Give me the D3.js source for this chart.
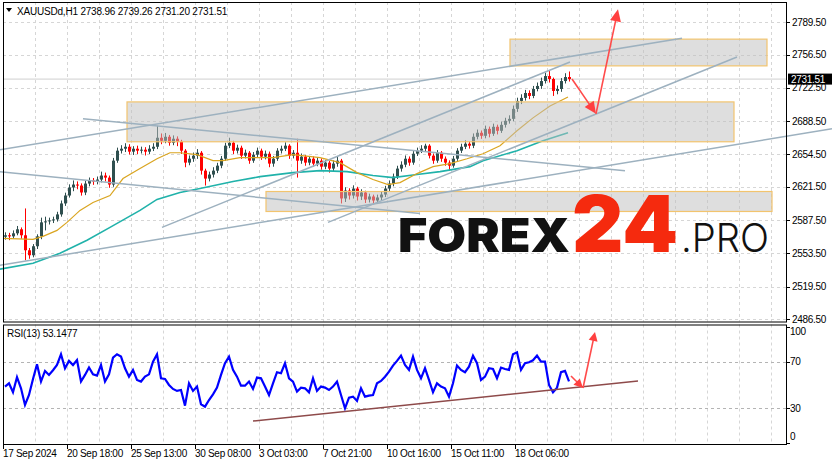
<!DOCTYPE html>
<html><head><meta charset="utf-8">
<script src="https://cdn.jsdelivr.net/npm/d3@7"></script>
<style>html,body{margin:0;padding:0;background:#fff;}svg{display:block;font-family:"Liberation Sans",Arial,sans-serif;}</style>
</head><body><svg id="c" width="832" height="465"></svg>
<script>
// ---------- data ----------
const header = "XAUUSDd,H1  2738.96 2739.26 2731.20 2731.51";
const rsiLabel = "RSI(13) 53.1477";
const lastPrice = 2731.51;
const priceTicks = [2789.5,2756.5,2722.5,2688.5,2654.5,2621.5,2587.5,2553.5,2519.5,2486.5];
const rsiTicks = [100,70,30,0];
const rsiLevels = [70,30];
const timeTickIdx = [0,16,32,48,64,80,96,112,128];
const timeLabels = ["17 Sep 2024","20 Sep 18:00","25 Sep 13:00","30 Sep 08:00","3 Oct 03:00","7 Oct 21:00","10 Oct 16:00","15 Oct 11:00","18 Oct 06:00"];

const open = [2570.5,2572.0,2570.9,2574.0,2578.1,2572.0,2556.7,2551.6,2560.8,2570.9,
2585.2,2586.2,2587.2,2588.2,2593.3,2604.5,2612.6,2620.8,2623.8,2622.8,
2615.7,2624.8,2627.9,2626.9,2628.9,2633.0,2630.9,2623.8,2648.2,2658.4,
2660.4,2662.4,2657.4,2660.4,2658.4,2659.4,2657.4,2660.4,2662.4,2671.6,
2668.5,2672.6,2666.5,2670.6,2667.5,2658.4,2646.2,2650.2,2653.3,2656.3,
2638.0,2629.9,2634.0,2638.0,2643.1,2650.2,2663.5,2666.5,2658.4,2661.4,
2653.3,2656.3,2648.2,2654.3,2658.4,2652.3,2655.3,2645.2,2650.2,2658.4,
2660.4,2663.5,2653.3,2656.3,2648.2,2652.3,2646.2,2650.2,2645.2,2648.2,
2642.1,2646.2,2640.1,2645.2,2648.2,2609.6,2617.7,2612.6,2619.7,2611.6,
2615.7,2608.5,2611.6,2607.5,2610.6,2613.6,2619.7,2624.8,2631.9,2640.1,
2644.1,2650.2,2646.2,2655.3,2658.4,2660.4,2663.5,2653.3,2648.2,2656.3,
2650.2,2646.2,2643.1,2650.2,2658.4,2662.4,2665.5,2663.5,2672.6,2676.7,
2673.6,2680.7,2675.7,2682.8,2678.7,2684.8,2688.9,2690.9,2701.1,2709.2,
2712.3,2717.3,2714.3,2721.4,2724.5,2729.5,2734.6,2731.6,2719.4,2721.4,
2729.5,2733.6];
const high = [2575.0,2574.5,2577.0,2581.5,2580.0,2599.4,2559.0,2563.0,2573.0,2590.0,
2591.0,2590.0,2591.0,2596.0,2607.5,2615.5,2624.0,2628.0,2627.0,2625.0,
2627.5,2631.0,2630.5,2632.0,2637.0,2636.0,2633.0,2651.0,2661.5,2664.0,
2666.0,2665.0,2663.0,2663.5,2662.5,2662.0,2664.0,2666.0,2683.8,2676.0,
2676.5,2674.5,2674.0,2673.0,2669.5,2660.0,2653.5,2656.5,2660.0,2658.0,
2640.0,2637.0,2641.5,2646.0,2653.0,2666.5,2671.6,2668.5,2664.5,2663.5,
2659.5,2658.0,2657.0,2661.5,2660.5,2658.5,2657.5,2653.0,2661.0,2663.5,
2667.0,2665.0,2659.0,2670.6,2655.5,2654.0,2653.0,2652.5,2651.5,2650.5,
2649.0,2648.0,2648.5,2652.5,2650.0,2621.0,2620.0,2623.0,2621.5,2619.0,
2617.5,2614.5,2613.5,2613.5,2616.5,2622.5,2628.0,2635.0,2643.0,2647.5,
2653.5,2652.5,2658.0,2661.5,2664.0,2665.5,2665.0,2655.5,2659.0,2658.0,
2652.5,2648.5,2653.0,2661.0,2665.5,2669.0,2668.0,2676.0,2680.0,2679.0,
2684.0,2683.0,2686.0,2685.0,2688.0,2692.0,2694.5,2704.5,2712.5,2716.0,
2720.5,2720.0,2724.5,2728.0,2733.0,2738.0,2739.7,2733.0,2725.0,2732.5,
2737.5,2739.26];
const low = [2567.5,2567.0,2568.5,2572.0,2568.5,2546.5,2548.0,2549.5,2558.0,2568.0,
2577.0,2583.0,2584.5,2586.0,2591.0,2602.0,2610.5,2617.0,2619.0,2612.5,
2613.0,2622.0,2623.5,2624.0,2626.0,2627.0,2620.5,2621.5,2646.0,2655.5,
2657.0,2654.5,2654.0,2655.0,2655.5,2653.5,2655.0,2658.0,2660.0,2665.0,
2666.0,2663.5,2664.0,2663.0,2655.0,2641.5,2643.5,2647.0,2650.0,2634.0,
2622.8,2627.0,2631.0,2635.5,2640.5,2648.0,2661.0,2655.0,2655.5,2650.0,
2650.5,2645.0,2646.0,2652.0,2649.0,2649.5,2641.5,2642.0,2648.0,2655.5,
2658.0,2650.0,2650.5,2630.9,2645.0,2643.0,2643.5,2642.0,2642.5,2639.0,
2639.5,2636.0,2637.5,2642.0,2604.5,2606.0,2608.5,2609.5,2607.5,2608.0,
2605.0,2605.5,2604.5,2605.0,2607.5,2611.0,2617.0,2622.0,2629.5,2637.0,
2641.5,2643.0,2644.0,2653.0,2656.0,2658.0,2650.5,2645.0,2646.0,2647.0,
2643.0,2638.0,2641.0,2648.0,2656.0,2660.0,2660.5,2661.0,2670.0,2670.5,
2671.0,2672.0,2673.5,2675.0,2676.5,2682.0,2686.0,2688.5,2698.0,2706.0,
2709.5,2711.0,2712.0,2719.0,2721.5,2727.0,2728.0,2714.3,2716.0,2718.5,
2727.0,2729.0];
const close = [2572.0,2570.9,2574.0,2578.1,2572.0,2556.7,2551.6,2560.8,2570.9,2585.2,
2586.2,2587.2,2588.2,2593.3,2604.5,2612.6,2620.8,2623.8,2622.8,2615.7,
2624.8,2627.9,2626.9,2628.9,2633.0,2630.9,2623.8,2648.2,2658.4,2660.4,
2662.4,2657.4,2660.4,2658.4,2659.4,2657.4,2660.4,2662.4,2671.6,2668.5,
2672.6,2666.5,2670.6,2667.5,2658.4,2646.2,2650.2,2653.3,2656.3,2638.0,
2629.9,2634.0,2638.0,2643.1,2650.2,2663.5,2666.5,2658.4,2661.4,2653.3,
2656.3,2648.2,2654.3,2658.4,2652.3,2655.3,2645.2,2650.2,2658.4,2660.4,
2663.5,2653.3,2656.3,2648.2,2652.3,2646.2,2650.2,2645.2,2648.2,2642.1,
2646.2,2640.1,2645.2,2648.2,2609.6,2617.7,2612.6,2619.7,2611.6,2615.7,
2608.5,2611.6,2607.5,2610.6,2613.6,2619.7,2624.8,2631.9,2640.1,2644.1,
2650.2,2646.2,2655.3,2658.4,2660.4,2663.5,2653.3,2648.2,2656.3,2650.2,
2646.2,2643.1,2650.2,2658.4,2662.4,2665.5,2663.5,2672.6,2676.7,2673.6,
2680.7,2675.7,2682.8,2678.7,2684.8,2688.9,2690.9,2701.1,2709.2,2712.3,
2717.3,2714.3,2721.4,2724.5,2729.5,2734.6,2731.6,2719.4,2721.4,2729.5,
2733.6,2731.51];
const rsi = [48.6,51.4,43.7,56.6,47.1,32.9,41.4,55.1,67.7,52.9,
62.0,58.6,62.6,67.1,76.3,64.3,70.6,67.1,71.4,52.9,
58.6,64.9,59.1,58.0,67.1,52.9,59.1,73.4,76.3,74.3,
64.3,57.1,62.9,54.3,52.9,57.1,59.1,70.0,76.3,55.7,
55.1,50.0,46.6,44.9,45.7,32.3,51.4,44.9,48.6,33.4,
31.4,37.1,42.0,47.7,58.6,68.6,74.3,62.9,57.1,49.4,
49.4,52.9,46.6,56.3,55.7,48.6,41.4,51.4,60.9,60.0,
68.6,55.7,52.9,44.3,47.7,47.1,43.7,55.7,44.9,48.6,
47.7,45.7,48.6,52.9,41.4,30.0,39.1,40.0,36.3,47.1,
40.0,40.9,41.4,51.4,53.4,57.1,61.4,66.6,70.6,75.1,
67.1,62.9,74.3,62.9,55.7,64.3,54.3,43.7,51.4,48.6,
47.1,40.0,51.4,66.6,62.9,60.9,65.7,75.1,68.6,54.3,
57.1,64.3,63.7,55.7,64.9,63.7,62.9,76.3,78.0,62.9,
68.6,69.4,71.1,75.1,70.0,70.0,50.0,43.7,47.7,60.9,
62.0,53.1];

// moving averages (bar position, price)
const maFastIdx = [-0.5,7,9.5,13,15.5,18.75,22,26.25,29.5,33.75,38,41.25,43.75,48,52,54.5,58.75,62,67,72,78.75,83.75,88,92,95.75,98.75,103,107,111.25,115.5,119.5,123.75,128,132,136.25,140.75];
const maFast = [2568.9,2567.9,2570.9,2577.0,2585.2,2597.4,2605.5,2612.6,2629.9,2640.1,2650.2,2656.3,2656.3,2654.3,2648.2,2648.2,2651.3,2651.3,2651.3,2654.3,2651.3,2646.2,2636.0,2628.9,2623.8,2625.8,2635.0,2642.1,2645.2,2650.2,2655.3,2663.5,2678.7,2691.9,2704.1,2713.3];
const maSlowIdx = [-1.25,7,13.75,20.5,26.25,33.75,38,43.75,48.75,57,63.75,72,78.75,85.5,92,97,103,108.75,116.25,119.5,128,134.5,140.75];
const maSlow = [2537.4,2543.5,2553.6,2566.9,2580.1,2597.4,2608.6,2615.7,2619.7,2626.9,2631.9,2636.0,2638.0,2637.0,2633.0,2630.9,2634.0,2637.0,2642.1,2648.2,2658.4,2668.5,2676.7];

// drawn objects, in (bar position, price) / (bar position, RSI)
const trendLines = [
  [[-1.25,2659.4],[169.25,2773.3]],
  [[19.5,2690.9],[155,2638.0]],
  [[-1.25,2637.0],[103.75,2594.3]],
  [[-1.25,2541.4],[206.75,2680.7]],
  [[39.25,2580.1],[141.25,2748.9]],
  [[80.75,2585.2],[183,2754.0]]
];
const zones = [ // [fromBar, toBar, top price, bottom price]
  [126.75,191,2772.3,2745.0],
  [31,182.75,2708.2,2667.5],
  [65.75,192.25,2616.7,2596.3]
];
const priceArrow = [[141.75,2731.6],[147.75,2696.0],[153.25,2802.8]];
const rsiArrow = [[141.5,57.7],[144.5,47.4],[147.5,95.4]];
const rsiSupport = [[62,19.1],[158.25,53.4]];

// ---------- drawing ----------
const svg = d3.select("#c");
const L=3, R=786, mT=2, mB=321.5, rT=324.5, rB=444;
const x = d3.scaleLinear().domain([0,195.75]).range([L,R]);
const y = d3.scaleLinear().domain([2486.5,2789.5]).range([319,22.3]);
const yr = d3.scaleLinear().domain([0,100]).range([443.3,326.6]);
const cx = i => x(i+0.5);

// grids
const gridX = d3.range(8,196,8);
const g0 = svg.append("g");
g0.selectAll(".vg").data(gridX).join("line")
  .attr("x1",d=>Math.round(x(d))+0.5).attr("x2",d=>Math.round(x(d))+0.5)
  .attr("y1",mT).attr("y2",mB).attr("stroke","#d6d6d6").attr("stroke-dasharray","3,3");
g0.selectAll(".vg2").data(gridX).join("line")
  .attr("x1",d=>Math.round(x(d))+0.5).attr("x2",d=>Math.round(x(d))+0.5)
  .attr("y1",rT).attr("y2",rB).attr("stroke","#d6d6d6").attr("stroke-dasharray","3,3");
g0.selectAll(".hg").data(priceTicks).join("line")
  .attr("x1",L).attr("x2",R).attr("y1",d=>Math.round(y(d))+0.5).attr("y2",d=>Math.round(y(d))+0.5)
  .attr("stroke","#d6d6d6").attr("stroke-dasharray","3,3");
g0.selectAll(".rl").data(rsiLevels).join("line")
  .attr("x1",L).attr("x2",R).attr("y1",d=>Math.round(yr(d))+0.5).attr("y2",d=>Math.round(yr(d))+0.5)
  .attr("stroke","#b4b4b4").attr("stroke-dasharray","3,3");

// bid line
svg.append("line").attr("x1",L).attr("x2",R).attr("y1",y(lastPrice)).attr("y2",y(lastPrice))
  .attr("stroke","#cfcfcf").attr("stroke-width",1);

// candles
const idx = d3.range(close.length);
const cg = svg.append("g");
cg.selectAll(".w").data(idx).join("line")
  .attr("x1",i=>Math.round(cx(i))+0.5).attr("x2",i=>Math.round(cx(i))+0.5)
  .attr("y1",i=>y(high[i])).attr("y2",i=>y(low[i]))
  .attr("stroke",i=>close[i]>=open[i]?"#2f4f4f":"#ff0000").attr("stroke-width",1);
cg.selectAll(".b").data(idx).join("rect")
  .attr("x",i=>Math.round(cx(i))-1).attr("width",3)
  .attr("y",i=>y(Math.max(open[i],close[i])))
  .attr("height",i=>Math.max(1,Math.abs(y(open[i])-y(close[i]))))
  .attr("fill",i=>close[i]>=open[i]?"#2f4f4f":"#ff0000");

// moving averages
const lineP = d3.line().x(d=>x(d[0]+0.5)).y(d=>y(d[1]));
svg.append("path").attr("d",lineP(maSlowIdx.map((d,i)=>[d,maSlow[i]])))
  .attr("fill","none").attr("stroke","#20b2aa").attr("stroke-width",1.6);
svg.append("path").attr("d",lineP(maFastIdx.map((d,i)=>[d,maFast[i]])))
  .attr("fill","none").attr("stroke","#daa520").attr("stroke-width",1.2);

// zones
svg.append("g").selectAll("rect").data(zones).join("rect")
  .attr("x",d=>x(d[0])).attr("width",d=>x(d[1])-x(d[0]))
  .attr("y",d=>y(d[2])).attr("height",d=>y(d[3])-y(d[2]))
  .attr("fill","rgba(190,190,190,0.5)").attr("stroke","#f2c46e").attr("stroke-width",1.2);

// trend lines
svg.append("g").selectAll("line").data(trendLines).join("line")
  .attr("x1",d=>x(d[0][0]+0.5)).attr("y1",d=>y(d[0][1]))
  .attr("x2",d=>x(d[1][0]+0.5)).attr("y2",d=>y(d[1][1]))
  .attr("stroke","#9db1bf").attr("stroke-width",1.5);

// arrows
function arrow(pts, sy, len, half){
  const g = svg.append("g");
  const P = pts.map(p=>[x(p[0]+0.5), sy(p[1])]);
  for(let k=0;k<P.length-1;k++){
    const [x1,y1]=P[k],[x2,y2]=P[k+1];
    const dx=x2-x1, dy=y2-y1, d=Math.hypot(dx,dy), ux=dx/d, uy=dy/d;
    const bx=x2-ux*len, by=y2-uy*len;
    g.append("line").attr("x1",x1).attr("y1",y1).attr("x2",bx+ux*2).attr("y2",by+uy*2)
      .attr("stroke","#ff4a4a").attr("stroke-width",1.6);
    g.append("polygon").attr("points",[[x2,y2],[bx-uy*half,by+ux*half],[bx+uy*half,by-ux*half]].map(p=>p.join(",")).join(" "))
      .attr("fill","#ff4040");
  }
}
arrow(priceArrow, y, 12, 5.5);

// RSI
svg.append("path").attr("d",d3.line().x((d,i)=>cx(i)).y(d=>yr(d))(rsi))
  .attr("fill","none").attr("stroke","#0000ff").attr("stroke-width",2.2);
svg.append("line").attr("x1",x(rsiSupport[0][0]+0.5)).attr("y1",yr(rsiSupport[0][1]))
  .attr("x2",x(rsiSupport[1][0]+0.5)).attr("y2",yr(rsiSupport[1][1]))
  .attr("stroke","#8e4a4a").attr("stroke-width",1.5);
arrow(rsiArrow, yr, 9, 4.5);

// frames
svg.append("rect").attr("x",L+0.5).attr("y",mT+0.5).attr("width",R-L).attr("height",mB-mT)
  .attr("fill","none").attr("stroke","#000");
svg.append("rect").attr("x",L+0.5).attr("y",rT+0.5).attr("width",R-L).attr("height",rB-rT)
  .attr("fill","none").attr("stroke","#000");

// price axis
const pa = svg.append("g");
pa.selectAll("line").data(priceTicks).join("line")
  .attr("x1",R).attr("x2",R+4).attr("y1",d=>Math.round(y(d))+0.5).attr("y2",d=>Math.round(y(d))+0.5).attr("stroke","#000");
pa.selectAll("text").data(priceTicks).join("text")
  .attr("x",R+6).attr("y",d=>y(d)+3.5).attr("font-size",10).attr("letter-spacing",-0.3)
  .text(d=>d.toFixed(2));
svg.append("rect").attr("x",R+2).attr("y",y(lastPrice)-5.5).attr("width",44).attr("height",11).attr("fill","#000");
svg.append("text").attr("x",R+5).attr("y",y(lastPrice)+3.8).attr("font-size",10).attr("letter-spacing",-0.3)
  .attr("fill","#fff").text(lastPrice.toFixed(2));

// RSI axis
const ra = svg.append("g");
ra.selectAll("line").data(rsiTicks).join("line")
  .attr("x1",R).attr("x2",R+4).attr("y1",d=>Math.round(yr(d))+0.5).attr("y2",d=>Math.round(yr(d))+0.5).attr("stroke","#000");
ra.selectAll("text").data(rsiTicks).join("text")
  .attr("x",R+4).attr("y",d=>Math.min(440, Math.max(335, yr(d)+3.5)))
  .attr("font-size",10).attr("letter-spacing",-0.3).text(d=>d);

// time axis
const ta = svg.append("g");
ta.selectAll("line").data(timeTickIdx).join("line")
  .attr("x1",d=>Math.round(x(d))+0.5).attr("x2",d=>Math.round(x(d))+0.5).attr("y1",rB).attr("y2",rB+5).attr("stroke","#000");
ta.selectAll("text").data(timeTickIdx).join("text")
  .attr("x",d=>x(d)).attr("y",rB+13).attr("font-size",10).attr("letter-spacing",-0.3)
  .text((d,i)=>timeLabels[i]);

// labels
svg.append("polygon").attr("points","6,8 12,8 9,12").attr("fill","#000");
svg.append("text").attr("x",17).attr("y",15).attr("font-size",10).attr("letter-spacing",-0.2).text(header);
svg.append("text").attr("x",7).attr("y",337).attr("font-size",10).attr("letter-spacing",-0.2).text(rsiLabel);

// logo
const lg = svg.append("g").attr("font-family","Inter, 'Open Sans', sans-serif");
lg.append("text").attr("x",398).attr("y",252).attr("font-size",47).attr("font-weight",900)
  .attr("textLength",172).attr("lengthAdjust","spacingAndGlyphs").attr("fill","#111").text("FOREX");
lg.append("text").attr("x",572).attr("y",252).attr("font-size",78).attr("font-weight",900)
  .attr("textLength",106).attr("lengthAdjust","spacingAndGlyphs").attr("fill","#f52a0e").text("24");
lg.append("text").attr("x",681).attr("y",252).attr("font-size",40).attr("font-weight",300)
  .attr("textLength",88).attr("lengthAdjust","spacingAndGlyphs").attr("fill","#111").text(".PRO");
</script></body></html>
